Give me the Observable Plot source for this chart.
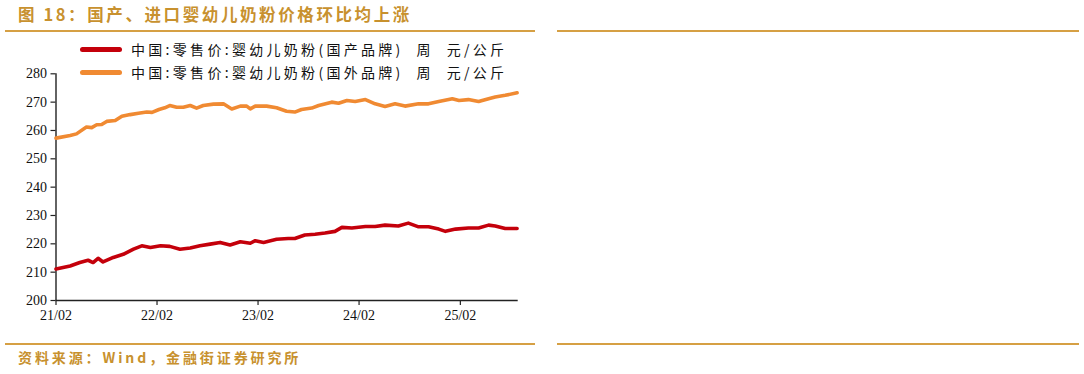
<!DOCTYPE html>
<html><head><meta charset="utf-8">
<script src="https://cdn.jsdelivr.net/npm/d3@7"></script>
<script src="https://cdn.jsdelivr.net/npm/@observablehq/plot@0.6"></script>
<style>
html,body{margin:0;padding:0;background:#fff}
body{width:1084px;height:374px;position:relative;overflow:hidden;font-family:"Noto Sans CJK SC",sans-serif}
.gold{position:absolute;height:1.6px;background:#D6A044}
#title{position:absolute;left:18px;top:2px;font-size:16.5px;font-weight:bold;color:#C8912E;letter-spacing:2.6px;white-space:pre}
#caption{position:absolute;left:18px;top:347px;font-size:14px;font-weight:bold;color:#C8912E;letter-spacing:2.9px;white-space:pre}
#chart{position:absolute;left:0;top:35px}
.leg{position:absolute;left:80px;font-size:14px;color:#111;letter-spacing:3.3px;white-space:pre;line-height:16px}
.sw{display:inline-block;width:42px;height:5px;border-radius:3px;vertical-align:middle;margin-right:9px;position:relative;top:-2px}
</style></head><body>
<div id="title">图 18：国产、进口婴幼儿奶粉价格环比均上涨</div>
<div class="gold" style="left:5px;width:530px;top:30px"></div>
<div class="gold" style="left:557px;width:522px;top:30px"></div>
<div class="gold" style="left:5px;width:530px;top:343px"></div>
<div class="gold" style="left:557px;width:522px;top:343px"></div>
<div id="chart"></div>
<div id="legend"></div>
<div id="caption">资料来源：Wind，金融街证券研究所</div>
<script>
const seriesNames = ["中国:零售价:婴幼儿奶粉(国产品牌)  周  元/公斤", "中国:零售价:婴幼儿奶粉(国外品牌)  周  元/公斤"];
const seriesColors = ["#C4000B", "#F08A32"];

const domesticDates = ["2021-02-01","2021-03-24","2021-04-28","2021-05-28","2021-06-15","2021-07-03","2021-07-21","2021-08-27","2021-10-02","2021-11-08","2021-12-08","2022-01-08","2022-02-14","2022-03-19","2022-04-25","2022-06-01","2022-07-06","2022-08-12","2022-09-17","2022-10-23","2022-11-29","2023-01-04","2023-01-22","2023-02-21","2023-04-09","2023-05-21","2023-06-14","2023-07-20","2023-08-26","2023-10-01","2023-11-06","2023-12-01","2024-01-06","2024-02-24","2024-03-30","2024-05-05","2024-06-22","2024-07-28","2024-09-03","2024-10-09","2024-11-15","2024-12-09","2025-01-15","2025-03-02","2025-04-08","2025-05-14","2025-06-07","2025-07-13","2025-08-25"];
const domesticValues = [211.1,212.2,213.4,214.2,213.4,214.9,213.6,215.2,216.3,218.1,219.3,218.7,219.3,219.1,218.1,218.5,219.3,219.9,220.5,219.6,220.7,220.2,221.1,220.5,221.6,221.9,221.9,223.1,223.4,223.8,224.4,225.8,225.6,226.1,226.1,226.6,226.3,227.3,226.0,226.0,225.2,224.4,225.2,225.6,225.6,226.6,226.3,225.4,225.4];

const importDates = ["2021-02-01","2021-03-24","2021-04-16","2021-05-22","2021-06-10","2021-06-28","2021-07-16","2021-08-03","2021-09-03","2021-09-27","2021-10-27","2021-11-26","2021-12-26","2022-01-14","2022-02-08","2022-03-01","2022-03-19","2022-04-13","2022-05-07","2022-06-01","2022-06-24","2022-07-18","2022-08-24","2022-09-29","2022-10-29","2022-11-29","2022-12-22","2023-01-04","2023-01-22","2023-03-04","2023-04-09","2023-05-15","2023-06-14","2023-07-08","2023-08-14","2023-09-08","2023-10-25","2023-11-19","2023-12-19","2024-01-18","2024-02-24","2024-03-30","2024-05-05","2024-06-10","2024-07-16","2024-09-03","2024-10-09","2024-11-15","2025-01-03","2025-01-27","2025-03-02","2025-04-08","2025-05-14","2025-06-07","2025-07-13","2025-08-25"];
const importValues = [257.3,258.2,258.8,261.2,261.0,262.0,262.1,263.2,263.5,265.0,265.6,266.1,266.5,266.4,267.4,268.0,268.8,268.2,268.2,268.8,267.9,268.8,269.3,269.4,267.6,268.6,268.6,267.6,268.6,268.6,268.0,266.8,266.5,267.4,267.9,268.8,270.0,269.6,270.6,270.2,270.9,269.4,268.5,269.4,268.6,269.4,269.4,270.2,271.2,270.6,270.9,270.2,271.2,271.8,272.4,273.3];

const tickDates = ["2021-02-01","2022-02-01","2023-02-01","2024-02-01","2025-02-01"];
const tickLabels = ["21/02","22/02","23/02","24/02","25/02"];
const yTicks = [200,210,220,230,240,250,260,270,280];

const parse = d3.utcParse("%Y-%m-%d");
const rows = [
  ...domesticDates.map((d,i)=>({date:parse(d), value:domesticValues[i], series:seriesNames[0]})),
  ...importDates.map((d,i)=>({date:parse(d), value:importValues[i], series:seriesNames[1]}))
];
const xStart = parse("2021-02-01"), xEnd = parse("2025-08-29");
const tickD = tickDates.map(parse);

const chart = Plot.plot({
  width: 535,
  height: 305,
  marginLeft: 55.5,
  marginRight: 17.3,
  marginTop: 38.3,
  marginBottom: 40,
  style: {fontFamily: "'Liberation Serif','Times New Roman',serif", fontSize: "14px", color: "#111", background: "#fff", overflow: "visible"},
  x: {type: "utc", domain: [xStart, xEnd], label: null},
  y: {domain: [200, 280], label: null},
  color: {domain: seriesNames, range: seriesColors},
  marks: [
    Plot.axisY({ticks: yTicks, tickSize: 5, tickPadding: 4, label: null, tickFormat: d => String(d), stroke: "#222", strokeWidth: 1.2}),
    Plot.axisX({ticks: tickD, tickSize: 5, tickPadding: 5, label: null, tickFormat: d => tickLabels[tickD.findIndex(t => +t === +d)], stroke: "#222", strokeWidth: 1.2}),
    Plot.ruleX([xStart], {stroke: "#222", strokeWidth: 1.4}),
    Plot.ruleY([200], {stroke: "#222", strokeWidth: 1.4}),
    Plot.line(rows, {x: "date", y: "value", z: "series", stroke: "series", strokeWidth: 3.6, curve: "linear", strokeLinejoin: "round", strokeLinecap: "round"})
  ]
});
document.getElementById("chart").appendChild(chart);

const legend = document.getElementById("legend");
seriesNames.forEach((name, i) => {
  const row = document.createElement("div");
  row.className = "leg";
  row.style.top = (41 + i * 23) + "px";
  const sw = document.createElement("span");
  sw.className = "sw";
  sw.style.background = seriesColors[i];
  row.appendChild(sw);
  row.appendChild(document.createTextNode(name));
  legend.appendChild(row);
});
</script>
</body></html>
